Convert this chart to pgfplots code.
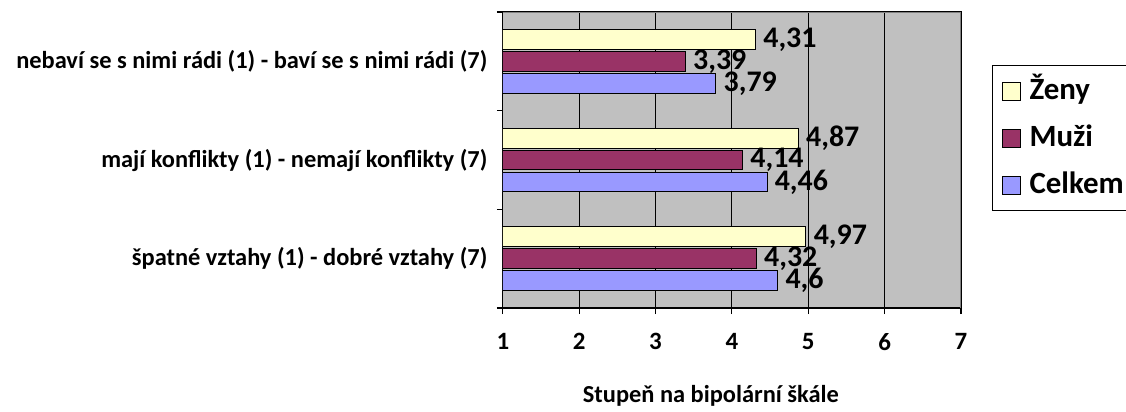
\documentclass[border=0pt]{standalone}
\usepackage{pgfplots}
\pgfplotsset{compat=1.18}
\usepackage{fontspec}
\setmainfont{Carlito}
\definecolor{zeny}{HTML}{FFFFCC}
\definecolor{muzi}{HTML}{993366}
\definecolor{celkem}{HTML}{9999FF}
\definecolor{plotbg}{HTML}{C0C0C0}
\definecolor{frame}{HTML}{808080}

\pgfplotstableread{
y zeny muzi celkem
0 4.97 4.32 4.6
1 4.87 4.14 4.46
2 4.31 3.39 3.79
}\data

\begin{document}
\begin{tikzpicture}
\begin{axis}[
    scale only axis,
    width=458bp, height=296bp,
    xbar, bar width=0.2,
    xmin=1, xmax=7, ymin=-0.5, ymax=2.5,
    xtick={1,...,7},
    xtick pos=lower, ytick pos=left,
    xmajorgrids, major grid style={black, line width=1.2pt},
    tick align=outside, major tick length=6bp,
    tick style={black, line width=1.2pt},
    axis line style={black, line width=1.2pt},
    ytick={-0.5,0.5,1.5,2.5}, yticklabels={},
    extra y ticks={0,1,2},
    extra y tick labels={\v{s}patné vztahy (1) - dobré vztahy (7),
        mají konflikty (1) - nemají konflikty (7),
        nebaví se s nimi rádi (1) - baví se s nimi rádi (7)},
    extra y tick style={major tick length=0pt, grid=none,
        yticklabel style={font=\bfseries\fontsize{24.5}{26}\selectfont, xshift=-12bp}},
    xticklabel style={font=\bfseries\fontsize{25}{27}\selectfont, yshift=-16bp},
    /pgf/number format/assume math mode=true,
    /pgf/number format/use comma,
    xlabel={Stupeň na bipolární škále},
    xlabel style={at={(axis description cs:0.5,0)}, anchor=base,
        yshift=-94bp, xshift=-21bp, font=\bfseries\fontsize{24.5}{26}\selectfont},
    axis background/.style={fill=plotbg},
    nodes near coords,
    every node near coord/.append style={font=\bfseries\fontsize{30}{32}\selectfont,
        black, anchor=west, xshift=4bp},
    legend style={at={(axis description cs:1.0677,0.8209)}, anchor=north west,
        draw=black, line width=1.2pt,
        font=\bfseries\fontsize{31}{33}\selectfont,
        nodes={inner sep=0pt, text height=24bp, text depth=7bp},
        row sep=16bp, column sep=9bp,
        inner xsep=9bp, inner ysep=10bp},
    legend cell align=left,
    legend image code/.code={\draw[#1, line width=1pt] (0bp,-9bp) rectangle (18bp,9bp);},
]
\addplot[draw=black, line width=1pt, fill=zeny, bar shift=0.222] table[x=zeny, y=y] {\data};
\addlegendentry{Ženy}
\addplot[draw=black, line width=1pt, fill=muzi, bar shift=0] table[x=muzi, y=y] {\data};
\addlegendentry{Muži}
\addplot[draw=black, line width=1pt, fill=celkem, bar shift=-0.222] table[x=celkem, y=y] {\data};
\addlegendentry{Celkem}
\draw[frame, line width=1.2pt] (rel axis cs:0,1) -- (rel axis cs:1,1) -- (rel axis cs:1,0);
\coordinate (ll) at (rel axis cs:0,0);
\coordinate (ur) at (rel axis cs:1,1);
\end{axis}
\pgfresetboundingbox
\path[use as bounding box] ([shift={(-502.7bp,-103bp)}]ll) rectangle ([shift={(165bp,12bp)}]ur);
\end{tikzpicture}
\end{document}
